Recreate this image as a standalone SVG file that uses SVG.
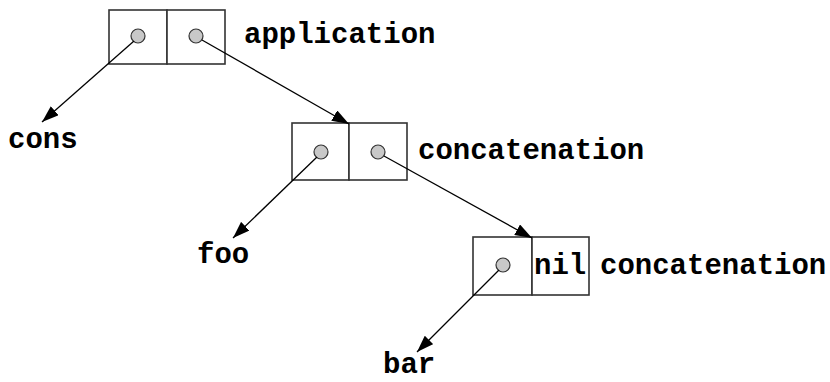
<svg xmlns="http://www.w3.org/2000/svg" width="830" height="382" viewBox="0 0 830 382">
  <defs>
    <marker id="head" markerUnits="userSpaceOnUse" markerWidth="18" markerHeight="12" refX="17" refY="6" orient="auto">
      <path d="M0,0 L17,6 L0,12 Z" fill="#000"/>
    </marker>
  </defs>
  <style>
    .cell { fill: #fff; stroke: #333; stroke-width: 1.6; }
    .dot { fill: #c8c8c8; stroke: #333; stroke-width: 1.2; }
    .lbl { font-family: "Liberation Mono", "Courier New", monospace; font-weight: bold; font-size: 29px; fill: #000; }
    .edge { stroke: #000; stroke-width: 1.3; fill: none; marker-end: url(#head); }
  </style>
  <rect width="830" height="382" fill="#fff"/>

  <g id="application">
    <rect class="cell" x="109" y="10" width="58" height="54"/>
    <rect class="cell" x="167" y="10" width="58" height="54"/>
    <circle class="dot" cx="138" cy="36" r="7"/>
    <circle class="dot" cx="196" cy="36" r="7"/>
    <text class="lbl" x="244" y="43">application</text>
  </g>

  <g id="cons">
    <text class="lbl" x="8" y="148">cons</text>
  </g>

  <g id="concatenation1">
    <rect class="cell" x="292" y="123" width="57" height="57"/>
    <rect class="cell" x="349" y="123" width="58" height="57"/>
    <circle class="dot" cx="321" cy="152" r="7"/>
    <circle class="dot" cx="378" cy="152" r="7"/>
    <text class="lbl" x="418" y="159">concatenation</text>
  </g>

  <g id="foo">
    <text class="lbl" x="197" y="263">foo</text>
  </g>

  <g id="concatenation2">
    <rect class="cell" x="473" y="237" width="59" height="58"/>
    <rect class="cell" x="532" y="237" width="57" height="58"/>
    <circle class="dot" cx="503" cy="265" r="7"/>
    <text class="lbl" x="534" y="274">nil</text>
    <text class="lbl" x="600" y="274">concatenation</text>
  </g>

  <g id="bar">
    <text class="lbl" x="383" y="373">bar</text>
  </g>

  <g id="connectors">
    <line class="edge" x1="134" y1="41" x2="42" y2="122"/>
    <line class="edge" x1="202" y1="40" x2="349" y2="124"/>
    <line class="edge" x1="317" y1="157" x2="233" y2="238"/>
    <line class="edge" x1="384" y1="156" x2="532" y2="238"/>
    <line class="edge" x1="499" y1="270" x2="417" y2="352"/>
  </g>
</svg>
